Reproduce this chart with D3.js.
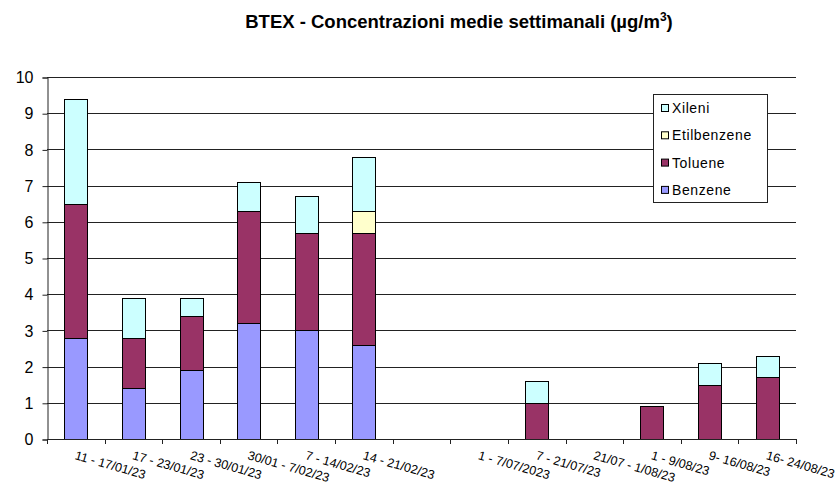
<!doctype html>
<html>
    <head>
        <title>BTEX - Concentrazioni medie settimanali</title>
        <script src="https://d3js.org/d3.v7.min.js"></script>
        <style>
            body { margin: 0; background: #fff; }
            text { font-family: 'Liberation Sans', Arial, sans-serif; fill: #000; }
            .title { font-size: 18.5px; font-weight: bold; text-anchor: middle; }
            .ytick { font-size: 16px; text-anchor: end; }
            .xtick { font-size: 12.5px; }
            .legend_text { font-size: 14px; letter-spacing: 0.6px; }
        </style>
    </head>
    <body>
        <svg height="485" id="chart" width="836"></svg>
        <script>
            // weekly periods (the 7th slot has no label)
            const periods = ["11 - 17/01/23", "17 - 23/01/23", "23 - 30/01/23", "30/01 - 7/02/23",
                "7 - 14/02/23", "14 - 21/02/23", "", "1 - 7/07/2023", "7 - 21/07/23",
                "21/07 - 1/08/23", "1 - 9/08/23", "9- 16/08/23", "16- 24/08/23"];
            const benzene     = [2.8, 1.4, 1.9, 3.2, 3.0, 2.6, 0, 0, 0, 0, 0, 0, 0];
            const toluene     = [3.7, 1.4, 1.5, 3.1, 2.7, 3.1, 0, 0, 1.0, 0, 0.9, 1.5, 1.7];
            const etilbenzene = [0, 0, 0, 0, 0, 0.6, 0, 0, 0, 0, 0, 0, 0];
            const xileni      = [2.9, 1.1, 0.5, 0.8, 1.0, 1.5, 0, 0, 0.6, 0, 0, 0.6, 0.6];
            const seriesNames = ["Benzene", "Toluene", "Etilbenzene", "Xileni"];
            const yTicks = [0, 1, 2, 3, 4, 5, 6, 7, 8, 9, 10];

            const colors = { Benzene: "#9999ff", Toluene: "#993366", Etilbenzene: "#ffffcc", Xileni: "#ccffff" };

            const plotLeft = 47, plotRight = 796, plotTop = 77, plotBottom = 439;
            const chart = d3.select("#chart");

            const rows = periods.map((p, i) => ({
                period: i, Benzene: benzene[i], Toluene: toluene[i],
                Etilbenzene: etilbenzene[i], Xileni: xileni[i]
            }));

            const scaleX = d3.scaleBand().domain(d3.range(periods.length)).range([plotLeft, plotRight]).paddingInner(0.6).paddingOuter(0.3);
            const bandX = d3.scaleBand().domain(d3.range(periods.length)).range([plotLeft, plotRight]);
            const scaleY = d3.scaleLinear().domain([0, 10]).range([plotBottom, plotTop]);

            const title = chart.append("text")
                .attr("class", "title")
                .attr("x", 459)
                .attr("y", 28);
            title.append("tspan").text("BTEX - Concentrazioni medie settimanali (µg/m");
            title.append("tspan").attr("dy", -7).style("font-size", "12px").text("3");
            title.append("tspan").attr("dy", 7).text(")");

            // gridlines
            chart.append("g")
                .selectAll("line")
                .data(yTicks.slice(1))
                .enter()
                .append("line")
                .attr("x1", plotLeft).attr("x2", plotRight)
                .attr("y1", d => Math.round(scaleY(d)) + 0.5)
                .attr("y2", d => Math.round(scaleY(d)) + 0.5)
                .attr("stroke", "#222");

            const stack = d3.stack().keys(seriesNames)(rows);
            chart.append("g")
                .selectAll("g")
                .data(stack)
                .enter()
                .append("g")
                .style("fill", d => colors[d.key])
                .selectAll("rect")
                .data(d => d.filter(s => s[1] - s[0] > 0))
                .enter()
                .append("rect")
                .attr("x", s => Math.round(scaleX(s.data.period)) + 0.5)
                .attr("width", Math.round(scaleX.bandwidth()))
                .attr("y", s => Math.round(scaleY(s[1])) + 0.5)
                .attr("height", s => Math.round(scaleY(s[0])) - Math.round(scaleY(s[1])))
                .attr("stroke", "#000")
                .attr("stroke-width", 1);

            // y axis
            const yAxis = d3.axisLeft(scaleY).tickValues(yTicks).tickSize(5).tickPadding(9);
            const gy = chart.append("g")
                .attr("transform", "translate(" + (plotLeft + 0.5) + ",0.5)")
                .call(yAxis);
            gy.selectAll("text").attr("class", "ytick").attr("fill", "#000").style("font-size", "16px").attr("font-family", null);
            gy.selectAll("line, path").attr("stroke", "#222");

            // x axis line and ticks
            const gx = chart.append("g");
            gx.append("line")
                .attr("x1", plotLeft).attr("x2", plotRight)
                .attr("y1", plotBottom + 0.5).attr("y2", plotBottom + 0.5)
                .attr("stroke", "#222");
            gx.selectAll(".xtickline")
                .data(d3.range(periods.length + 1))
                .enter()
                .append("line")
                .attr("x1", i => Math.round(i < periods.length ? bandX(i) : plotRight) + 0.5)
                .attr("x2", i => Math.round(i < periods.length ? bandX(i) : plotRight) + 0.5)
                .attr("y1", plotBottom).attr("y2", plotBottom + 5)
                .attr("stroke", "#222");
            gx.selectAll(".xtick")
                .data(periods)
                .enter()
                .append("text")
                .attr("class", "xtick")
                .attr("transform", (d, i) => "translate(" + (bandX(i) + bandX.bandwidth() / 2 + 1) + "," + 450 + ") rotate(16)")
                .attr("dy", "0.75em")
                .text(d => d);

            // legend
            const legendItems = seriesNames.slice().reverse();
            const legend = chart.append("g");
            legend.append("rect")
                .attr("x", 653.5).attr("y", 94.5)
                .attr("width", 114).attr("height", 108)
                .attr("fill", "#fff").attr("stroke", "#222");
            legend.selectAll(".legend_bar")
                .data(legendItems)
                .enter()
                .append("rect")
                .attr("class", "legend_bar")
                .attr("x", 661.5)
                .attr("y", (d, i) => 104.5 + i * 27.3)
                .attr("width", 7).attr("height", 7)
                .attr("stroke", "#000")
                .style("fill", d => colors[d]);
            legend.selectAll(".legend_text")
                .data(legendItems)
                .enter()
                .append("text")
                .attr("class", "legend_text")
                .attr("x", 672)
                .attr("y", (d, i) => 113 + i * 27.3)
                .text(d => d);
        </script>
    </body>
</html>
